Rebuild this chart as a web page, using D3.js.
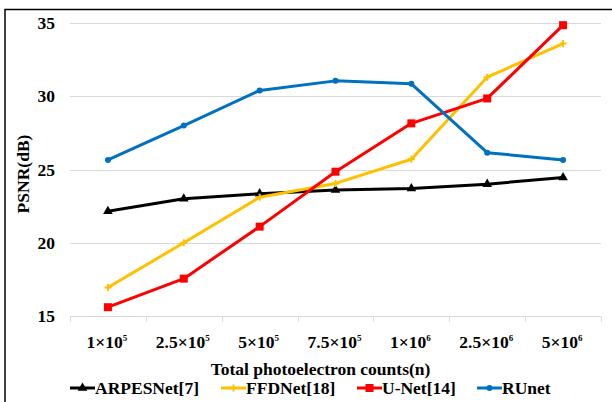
<!DOCTYPE html>
<html>
<head>
<meta charset="utf-8">
<script src="https://cdn.jsdelivr.net/npm/d3@7"></script>
<style>
  html, body { margin: 0; padding: 0; background: #fff; }
  svg { display: block; font-family: "Liberation Serif", "Times New Roman", serif; font-weight: bold; }
</style>
</head>
<body>
<svg id="chart" width="612" height="402"></svg>
<script>
// Photoelectron count categories (base × 10^exp)
const categories = ["1e5", "2.5e5", "5e5", "7.5e5", "1e6", "2.5e6", "5e6"];
const tickBase = ["1", "2.5", "5", "7.5", "1", "2.5", "5"];
const tickExp = ["5", "5", "5", "5", "6", "6", "6"];
const yTicks = [15, 20, 25, 30, 35];

// PSNR (dB) per method
const arpesNet = [22.15, 23.0, 23.35, 23.6, 23.7, 24.0, 24.45];
const ffdNet   = [16.95, 20.0, 23.1, 24.05, 25.7, 31.3, 33.6];
const uNet     = [15.6, 17.55, 21.1, 24.85, 28.15, 29.85, 34.85];
const ruNet    = [25.65, 28.0, 30.4, 31.05, 30.85, 26.15, 25.65];

const seriesNames = ["ARPESNet[7]", "FFDNet[18]", "U-Net[14]", "RUnet"];
const seriesColors = ["#000000", "#FFC000", "#FF0000", "#0070C0"];
const seriesMarkers = ["triangle", "plus", "square", "circle"];
const seriesValues = [arpesNet, ffdNet, uNet, ruNet];

const svg = d3.select("#chart");
const plotLeft = 70, plotRight = 601, plotTop = 23, plotBottom = 316;
const fs = 17.5;

const x = d3.scaleBand().domain(categories).range([plotLeft, plotRight]).padding(0);
const y = d3.scaleLinear().domain([15, 35]).range([plotBottom, plotTop]);
const cx = c => x(c) + x.bandwidth() / 2;

// outer frame (top and left edges)
svg.append("path")
  .attr("d", `M5,402 V9.5 H612`)
  .attr("fill", "none").attr("stroke", "#000").attr("stroke-width", 1.5);

// horizontal gridlines
svg.append("g").selectAll("line").data(yTicks.filter(t => t !== 15)).join("line")
  .attr("x1", plotLeft).attr("x2", plotRight)
  .attr("y1", d => Math.round(y(d)) + 0.5).attr("y2", d => Math.round(y(d)) + 0.5)
  .attr("stroke", "#d9d9d9").attr("stroke-width", 1);

// y axis labels
const yAxis = d3.axisLeft(y).tickValues(yTicks).tickSize(0).tickPadding(15);
const gy = svg.append("g").attr("transform", `translate(${plotLeft},0)`).call(yAxis);
gy.select(".domain").remove();
gy.selectAll("text").attr("font-size", fs).attr("font-family", "Liberation Serif").attr("font-weight", "bold").attr("fill", "#000");

// x axis line with band-edge ticks
const gx = svg.append("g").attr("transform", `translate(0,${Math.round(plotBottom) + 0.5})`);
gx.append("line").attr("x1", plotLeft).attr("x2", plotRight).attr("stroke", "#d9d9d9");
const edges = categories.map(c => x(c)).concat([plotRight]);
gx.selectAll("line.tk").data(edges).join("line").attr("class", "tk")
  .attr("x1", d => Math.round(d) + 0.5).attr("x2", d => Math.round(d) + 0.5)
  .attr("y1", 0).attr("y2", 5).attr("stroke", "#d9d9d9");

const xl = svg.append("g").selectAll("text").data(categories).join("text")
  .attr("x", d => cx(d) - 1).attr("y", 348).attr("text-anchor", "middle")
  .attr("font-size", fs).attr("fill", "#000");
xl.append("tspan").text((d, i) => tickBase[i] + "×10");
xl.append("tspan").attr("font-size", 9).attr("dy", -7).text((d, i) => tickExp[i]);

// axis titles
svg.append("text").attr("x", (plotLeft + plotRight) / 2 - 15).attr("y", 375).attr("text-anchor", "middle")
  .attr("font-size", fs).text("Total photoelectron counts(n)");
svg.append("text").attr("transform", `translate(29,174) rotate(-90)`)
  .attr("text-anchor", "middle").attr("font-size", fs).text("PSNR(dB)");

function marker(g, type, color) {
  if (type === "triangle") {
    g.append("path").attr("d", d3.symbol(d3.symbolTriangle, 40)()).attr("fill", color);
  } else if (type === "square") {
    g.append("rect").attr("x", -4).attr("y", -4).attr("width", 8).attr("height", 8).attr("fill", color);
  } else if (type === "circle") {
    g.append("circle").attr("r", 3).attr("fill", color);
  } else {
    g.append("path").attr("d", "M-3.5,0H3.5M0,-3.5V3.5").attr("stroke", color).attr("stroke-width", 2);
  }
}

// series lines and markers
const line = d3.line().x((d, i) => cx(categories[i])).y(d => y(d));
seriesValues.forEach((vals, s) => {
  const g = svg.append("g");
  g.append("path").datum(vals).attr("d", line)
    .attr("fill", "none").attr("stroke", seriesColors[s]).attr("stroke-width", 3)
    .attr("stroke-linejoin", "round");
  vals.forEach((v, i) => {
    const m = g.append("g").attr("transform", `translate(${cx(categories[i])},${y(v)})`);
    marker(m, seriesMarkers[s], seriesColors[s]);
  });
});

// legend
const legendX = [70, 221, 357, 477];
const leg = svg.append("g").selectAll("g").data(seriesNames).join("g")
  .attr("transform", (d, i) => `translate(${legendX[i]},388)`);
leg.append("line").attr("x1", 0).attr("x2", 25).attr("stroke", (d, i) => seriesColors[i]).attr("stroke-width", 3);
leg.each(function (d, i) {
  const m = d3.select(this).append("g").attr("transform", "translate(12.5,0)");
  marker(m, seriesMarkers[i], seriesColors[i]);
});
leg.append("text").attr("x", 25).attr("y", 6).attr("font-size", fs).text(d => d);
</script>
</body>
</html>
